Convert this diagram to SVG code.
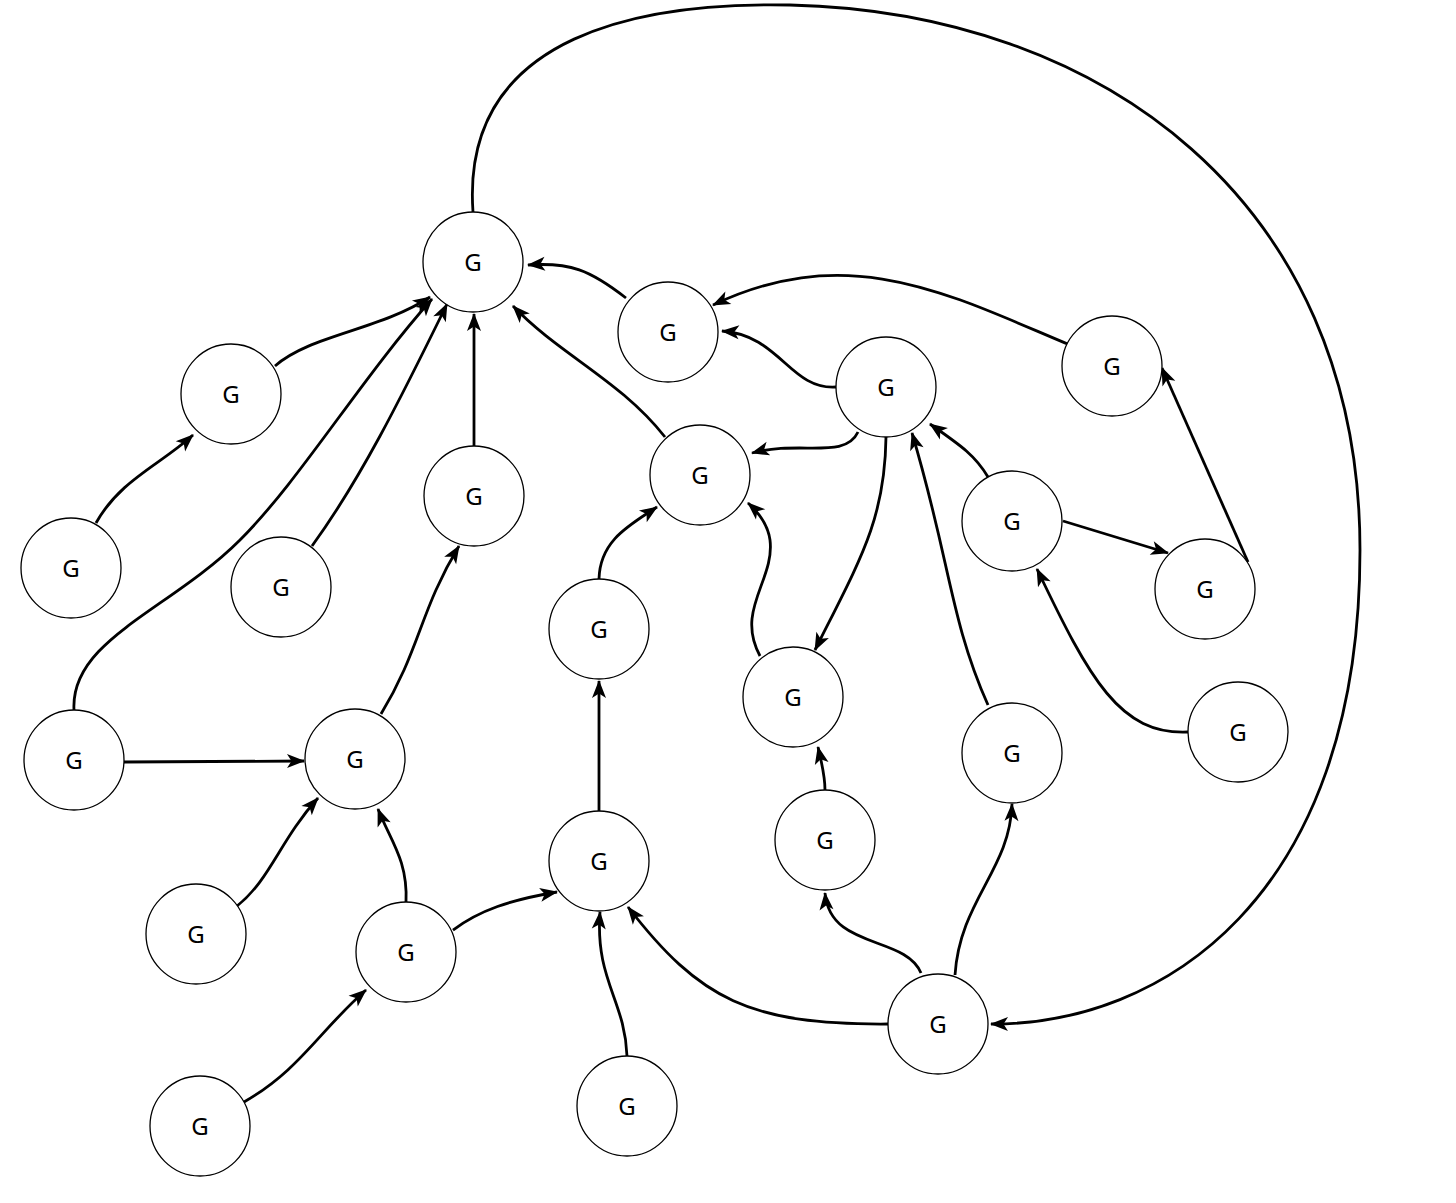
<svg xmlns="http://www.w3.org/2000/svg" width="1456" height="1203" viewBox="0 0 1456 1203">
<defs>
<marker id="ah" markerUnits="userSpaceOnUse" markerWidth="22" markerHeight="18" viewBox="-19 -9 22 18" refX="0" refY="0" orient="auto">
<path d="M1,0 L-17,-7 L-12.5,0 L-17,7 z" fill="#000"/>
</marker>
</defs>
<style>
.n circle{fill:#fff;stroke:#000;stroke-width:1.3}
.n text{font-family:"Noto Sans","Open Sans",sans-serif;font-size:24px;text-anchor:middle;dominant-baseline:central;fill:#000}
#edges path{fill:none;stroke:#000;stroke-width:2.8;marker-end:url(#ah)}
</style>
<rect width="1456" height="1203" fill="#fff"/>
<g id="edges">
<path d="M275,366 C310,335 380,330 430,297"/>
<path d="M96,523 C120,480 160,465 193,435"/>
<path d="M74,710 C70,640 170,610 240,540 C300,480 360,380 432,299"/>
<path d="M312,546 C360,480 400,400 447,304"/>
<path d="M474,446 L474,314"/>
<path d="M665,437 C620,380 560,355 513,306"/>
<path d="M626,298 C590,270 570,262 528,265"/>
<path d="M836,387 C790,390 780,335 722,331"/>
<path d="M1070,345 C950,295 850,240 713,305"/>
<path d="M858,432 C845,460 800,440 752,453"/>
<path d="M886,437 C885,520 860,560 815,650"/>
<path d="M988,705 C950,620 950,560 912,433"/>
<path d="M988,477 C975,455 960,445 930,424"/>
<path d="M1063,521 L1168,553"/>
<path d="M1248,562 L1162,368"/>
<path d="M1188,732 C1120,735 1090,680 1037,569"/>
<path d="M473,212 C460,30 650,2 790,5 C1100,12 1360,200 1360,550 C1360,900 1160,1025 991,1024"/>
<path d="M599,579 C600,540 630,525 657,507"/>
<path d="M760,656 C735,610 775,580 770,540 C768,525 758,512 748,503"/>
<path d="M599,811 L599,681"/>
<path d="M825,790 C825,775 822,765 818,747"/>
<path d="M921,973 C905,935 830,950 825,893"/>
<path d="M955,975 C960,900 1010,870 1012,804"/>
<path d="M888,1024 C750,1025 700,1000 628,907"/>
<path d="M627,1056 C625,1000 595,980 600,912"/>
<path d="M453,930 C480,910 510,900 557,892"/>
<path d="M406,902 C408,860 390,840 378,809"/>
<path d="M237,906 C270,880 280,840 318,798"/>
<path d="M244,1102 C300,1070 320,1030 366,990"/>
<path d="M124,762 L304,761"/>
<path d="M381,714 C420,650 420,610 459,546"/>
</g>
<g id="n1" class="n"><circle cx="473" cy="262" r="50"/><text x="473" y="261">G</text></g>
<g id="n2" class="n"><circle cx="668" cy="332" r="50"/><text x="668" y="331">G</text></g>
<g id="n3" class="n"><circle cx="886" cy="387" r="50"/><text x="886" y="386">G</text></g>
<g id="n4" class="n"><circle cx="1112" cy="366" r="50"/><text x="1112" y="365">G</text></g>
<g id="n5" class="n"><circle cx="231" cy="394" r="50"/><text x="231" y="393">G</text></g>
<g id="n6" class="n"><circle cx="474" cy="496" r="50"/><text x="474" y="495">G</text></g>
<g id="n7" class="n"><circle cx="700" cy="475" r="50"/><text x="700" y="474">G</text></g>
<g id="n8" class="n"><circle cx="1012" cy="521" r="50"/><text x="1012" y="520">G</text></g>
<g id="n9" class="n"><circle cx="71" cy="568" r="50"/><text x="71" y="567">G</text></g>
<g id="n10" class="n"><circle cx="281" cy="587" r="50"/><text x="281" y="586">G</text></g>
<g id="n11" class="n"><circle cx="1205" cy="589" r="50"/><text x="1205" y="588">G</text></g>
<g id="n12" class="n"><circle cx="599" cy="629" r="50"/><text x="599" y="628">G</text></g>
<g id="n13" class="n"><circle cx="793" cy="697" r="50"/><text x="793" y="696">G</text></g>
<g id="n14" class="n"><circle cx="1238" cy="732" r="50"/><text x="1238" y="731">G</text></g>
<g id="n15" class="n"><circle cx="74" cy="760" r="50"/><text x="74" y="759">G</text></g>
<g id="n16" class="n"><circle cx="355" cy="759" r="50"/><text x="355" y="758">G</text></g>
<g id="n17" class="n"><circle cx="1012" cy="753" r="50"/><text x="1012" y="752">G</text></g>
<g id="n18" class="n"><circle cx="825" cy="840" r="50"/><text x="825" y="839">G</text></g>
<g id="n19" class="n"><circle cx="599" cy="861" r="50"/><text x="599" y="860">G</text></g>
<g id="n20" class="n"><circle cx="196" cy="934" r="50"/><text x="196" y="933">G</text></g>
<g id="n21" class="n"><circle cx="406" cy="952" r="50"/><text x="406" y="951">G</text></g>
<g id="n22" class="n"><circle cx="938" cy="1024" r="50"/><text x="938" y="1023">G</text></g>
<g id="n23" class="n"><circle cx="627" cy="1106" r="50"/><text x="627" y="1105">G</text></g>
<g id="n24" class="n"><circle cx="200" cy="1126" r="50"/><text x="200" y="1125">G</text></g>
</svg>
